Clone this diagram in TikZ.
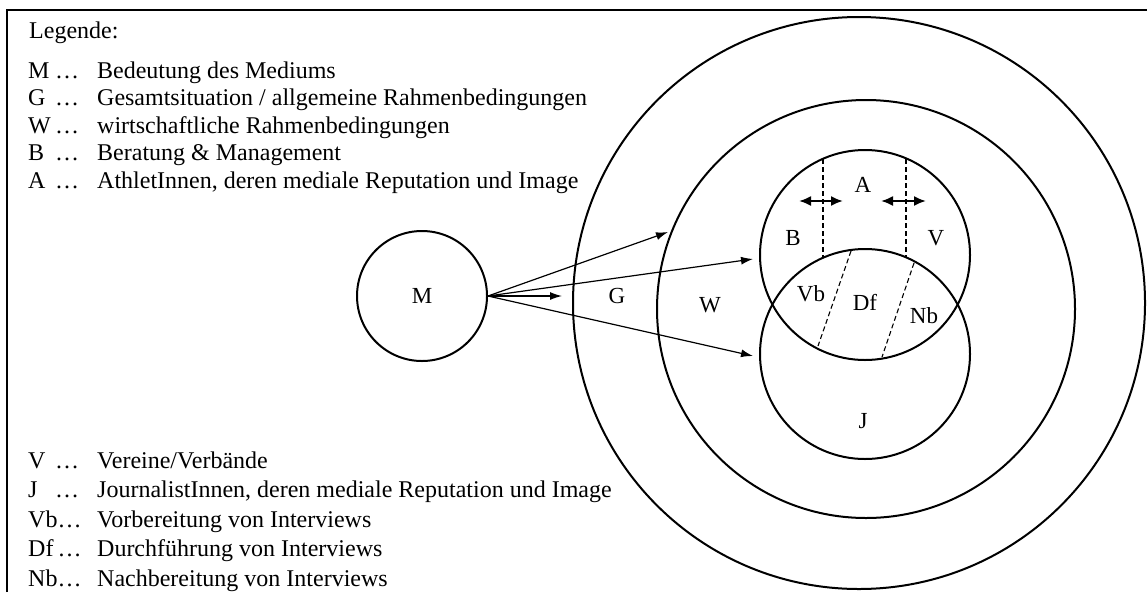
\documentclass[tikz,border=0pt]{standalone}
\usepackage{fontspec}
\setmainfont{Liberation Serif}
\usetikzlibrary{arrows.meta}
\newcommand{\legline}[3]{\makebox[69pt][l]{\makebox[#2][l]{#1}…}#3}

\begin{document}
\begin{tikzpicture}[x=1pt, y=-1pt,
  ring/.style={draw, circle, line width=2pt, inner sep=0pt},
  lab/.style={anchor=base, inner sep=0pt, font=\fontsize{23}{27}\selectfont},
  leg/.style={anchor=base west, inner sep=0pt, font=\fontsize{24}{28}\selectfont},
  arr/.style={-{Latex[length=12pt,width=8pt]}, line width=1.2pt},
  dbl/.style={{Latex[length=12pt,width=10pt]}-{Latex[length=12pt,width=10pt]}, line width=2pt},
  dashline/.style={dash pattern=on 5pt off 3pt, line width=1.1pt}]
\useasboundingbox (0,0) rectangle (1147,592);
\draw[line width=1.2pt] (7,592) -- (7,10) -- (1147,10);
% legend
\node[leg] (legHead) at (29,38) {Legende:};
\node[leg] (legM) at (28,78) {\legline{M}{27pt}{Bedeutung des Mediums}};
\node[leg] (legG) at (28,105.5) {\legline{G}{27pt}{Gesamtsituation / allgemeine Rahmenbedingungen}};
\node[leg] (legW) at (28,133) {\legline{W}{27pt}{wirtschaftliche Rahmenbedingungen}};
\node[leg] (legB) at (28,160.5) {\legline{B}{27pt}{Beratung \& Management}};
\node[leg] (legA) at (28,188) {\legline{A}{27pt}{AthletInnen, deren mediale Reputation und Image}};
\node[leg] (legV) at (28,468) {\legline{V}{27pt}{Vereine/Verbände}};
\node[leg] (legJ) at (28,497.5) {\legline{J}{27pt}{JournalistInnen, deren mediale Reputation und Image}};
\node[leg] (legVb) at (28,527) {\legline{Vb}{29.5pt}{Vorbereitung von Interviews}};
\node[leg] (legDf) at (28,556.5) {\legline{Df}{29.5pt}{Durchführung von Interviews}};
\node[leg] (legNb) at (28,586) {\legline{Nb}{29.5pt}{Nachbereitung von Interviews}};
% circles
\node[ring, minimum size=572pt] (ringG) at (859,303) {};
\node[ring, minimum size=418pt] (ringW) at (866,309) {};
\node[ring, minimum size=210pt] (circA) at (865,255) {};
\node[ring, minimum size=210pt] (circJ) at (865,354) {};
\node[ring, minimum size=130pt, font=\fontsize{23}{27}\selectfont] (circM) at (422,296) {M};
% labels
\node[lab] (labG) at (617,303.5) {G};
\node[lab] (labW) at (710,312.5) {W};
\node[lab] (labA) at (863,192.5) {A};
\node[lab] (labB) at (793,245.5) {B};
\node[lab] (labV) at (936,245.5) {V};
\node[lab] (labVb) at (811,301.5) {Vb};
\node[lab] (labDf) at (865,310.5) {Df};
\node[lab] (labNb) at (924,323.5) {Nb};
\node[lab] (labJ) at (863,428.5) {J};
% arrows from M
\coordinate (tipW) at (668,232);
\coordinate (tipG) at (562,296);
\coordinate (tipA) at (753,259);
\coordinate (tipJ) at (753,356);
\draw[arr] (circM.east) -- (tipW);
\draw[arr] (circM.east) -- (tipG);
\draw[arr] (circM.east) -- (tipA);
\draw[arr] (circM.east) -- (tipJ);
% borders inside A and J
\coordinate (bl1) at (799,201);
\coordinate (bl2) at (843,201);
\coordinate (br1) at (881,201);
\coordinate (br2) at (926,201);
\draw[dbl] (bl1) -- (bl2);
\draw[dbl] (br1) -- (br2);
\draw[dashline] (823,159) -- (823,258);
\draw[dashline] (906,159) -- (906,258);
\draw[dashline] (851,251) -- (818,346);
\draw[dashline] (914,263) -- (882,357);
\end{tikzpicture}
\end{document}
